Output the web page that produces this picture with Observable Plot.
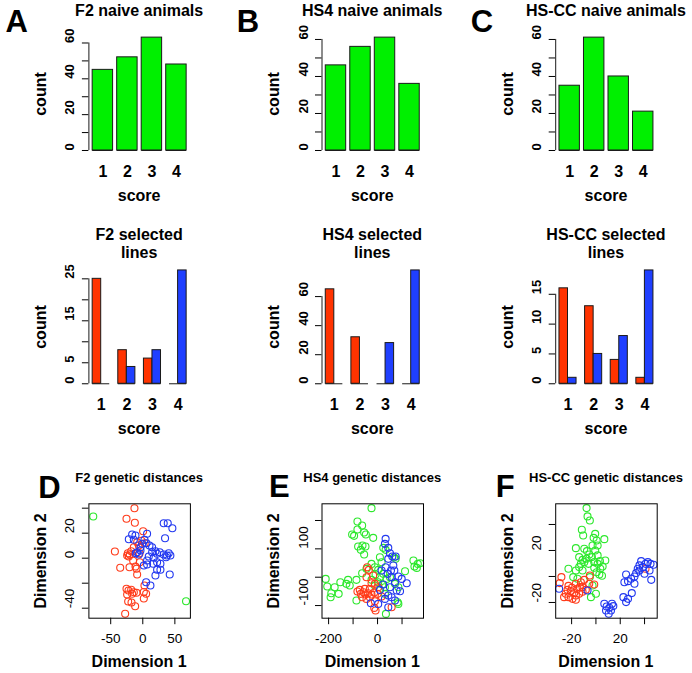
<!DOCTYPE html>
<html><head><meta charset="utf-8">
<script src="https://cdn.jsdelivr.net/npm/d3@7"></script>
<script src="https://cdn.jsdelivr.net/npm/@observablehq/plot@0.6"></script>
<style>
body{margin:0;background:#fff}
#fig{position:relative;width:692px;height:673px;overflow:hidden;background:#fff;font-family:"Liberation Sans",Arial,Helvetica,sans-serif;color:#000}
.lbl{position:absolute;white-space:nowrap;line-height:1;}
#fig svg{position:absolute;overflow:visible;background:transparent}
</style></head><body><div id="fig"></div>
<script>
// ---------- data ----------
const scores = ["1", "2", "3", "4"];
const naiveF2 = [45, 52, 63, 48];
const naiveHS4 = [46, 56, 61, 36];
const naiveHSCC = [35, 61, 40, 21];
const selLowF2 = [25, 8, 6, 0];
const selHighF2 = [0, 4, 8, 27];
const selLowHS4 = [65, 32, 0, 0];
const selHighHS4 = [0, 0, 28, 78];
const selLowHSCC = [16, 13, 4, 1];
const selHighHSCC = [1, 5, 8, 19];

const titlesNaive = ["F2 naive animals", "HS4 naive animals", "HS-CC naive animals"];
const titlesSelected = [["F2 selected", "lines"], ["HS4 selected", "lines"], ["HS-CC selected", "lines"]];
const titlesMDS = ["F2 genetic distances", "HS4 genetic distances", "HS-CC genetic distances"];
const panelLetters = ["A", "B", "C", "D", "E", "F"];

const ticksNaive = [0, 10, 20, 30, 40, 50, 60];
const labelsNaive = [0, 20, 40, 60];
const ticksSel = [[0, 5, 10, 15, 20, 25], [0, 20, 40, 60], [0, 5, 10, 15]];
const labelsSel = [[0, 5, 15, 25], [0, 20, 40, 60], [0, 5, 10, 15]];

// MDS coordinates [dimension 1, dimension 2]
const mdsF2Red = [[-13,40],[-25.4,31.5],[-12.4,28.3],[0.5,21.6],[-8.8,12.8],[-6.2,10.1],[-43.5,5.3],[-23.3,4],[-20.2,2.9],[-21.8,1.3],[-18.1,5.6],[-24.4,2.1],[-14,8.8],[-35.2,-7.7],[-20.7,-7.2],[-11.4,-6.7],[-9.8,-8.5],[-8.8,-13],[-4.7,-3.2],[-25.4,-24.5],[-22.3,-25.9],[-18.1,-25.3],[-14,-27.2],[-9.8,-27.7],[-24.4,-29.1],[-16.6,-28.5],[1.6,-27],[5.2,-28.5],[2.6,-21.9],[1.6,-32.3],[-22.8,-34.7],[-17.6,-35.5],[-11.9,-38.4],[-27.5,-44.5],[-2,14],[3,12],[-5,4],[-15,-2]];
const mdsF2Blue = [[32.6,28],[38.9,28],[46.1,24],[34.7,16],[-16.6,18.9],[-11.4,18.1],[-21.8,15.2],[-14,14.7],[6.7,19.5],[2.6,14.7],[5.7,12],[10.4,10.1],[14.5,8.8],[-3.6,8.8],[-8.8,4.8],[-6.2,2.9],[14.5,4.8],[19.7,5.6],[22.3,3.5],[26.4,4.8],[9.3,1.3],[6.7,-1.9],[17.1,0.3],[32.6,2.9],[37.8,2.1],[36.3,0.8],[40.4,4],[43,2.1],[6.7,-5.1],[1.6,-5.9],[16.1,-4.5],[22.3,-3.2],[27.5,-4.5],[22.3,-9.3],[27.5,-9.3],[19.7,-13.9],[42,-13.1],[5.2,-19.2],[11.9,-21.9],[-3.6,6.1],[-1,11.5],[-11,4]];
const mdsF2Green = [[-77.2,33.3],[67.4,-34.4]];

const mdsHS4Green = [[-24.7,243.5],[-82.2,196.5],[-63,182.4],[-82.2,168.2],[-54.8,157.6],[-104,150.6],[-95.9,145.9],[-47.9,150.6],[-17.8,138.8],[-79.5,108.2],[-61.6,111.8],[-49.3,108.2],[-68.5,96.5],[-54.8,80],[23.3,103.5],[32.9,96.5],[67.1,70.6],[74,64.7],[-212,-5.9],[-205.5,-32.9],[-189,-56.5],[-191.8,-70.6],[-175.3,-35.3],[-158.9,-58.8],[-152,-17.6],[-120.5,-9.4],[-113.7,-29.4],[-127.4,-23.5],[-86.3,-9.4],[-63,14.1],[-45.2,29.4],[-86.3,-82.4],[-24.7,47],[-11,35.3],[2.7,25.9],[-8.2,9.4],[9.6,0],[23.3,11.8],[37,-5.9],[50.7,0],[2.7,-17.6],[19.2,-25.9],[-11,-29.4],[-24.7,-9.4],[30.1,-35.3],[9.6,70.6],[16.4,52.9],[112.3,21.2],[146.6,58.8],[150.7,37.6],[160.3,32.9],[174,49.4],[164.4,47],[85,-94.1],[82.2,-88.2],[34.2,-129.4],[30.1,-58.8],[71.2,-23.5],[85,-35.3]];
const mdsHS4Red = [[-42.5,35.3],[-35.6,25.9],[-45.2,0],[-17.8,5.9],[-24.7,-21.2],[-11,-23.5],[-82.2,-50.6],[-68.5,-58.8],[-57.5,-52.9],[-49.3,-61.2],[-38.4,-56.5],[-24.7,-61.2],[-13.7,-54.1],[0,-58.8],[-63,-70.6],[-45.2,-76.5],[-31.5,-70.6],[-11,-84.7],[-8.2,-117.6],[-13.7,-108.2],[57.5,-105.9],[-31.5,-41.2],[2.7,-35.3],[16.4,-68.2],[-72.6,-44.7],[-52,-41.2]];
const mdsHS4Blue = [[32.9,135.3],[30.1,117.6],[43.8,103.5],[50.7,84.7],[60.3,72.9],[74,72.9],[43.8,64.7],[64.4,41.2],[54.8,23.5],[32.9,35.3],[85,2.4],[98.6,-5.9],[119.2,-21.2],[71.2,-17.6],[78.1,-47.1],[91.8,-49.4],[57.5,-70.6],[71.2,-82.4],[43.8,-64.7],[-27.4,-91.8],[2.7,-94.1],[43.8,-105.9],[23.3,-25.9],[9.6,-44.7],[57.5,0],[41.1,11.8],[16.4,23.5],[68.5,23.5],[50.7,-35.3],[30.1,-76.5]];

const mdsHSCCGreen = [[-7.7,52.6],[-6.9,46.2],[-5,43.1],[-11.6,35.9],[-10.5,31.5],[-0.6,32.8],[-1.9,29.7],[0.6,27.7],[6.9,28.7],[-2.8,23.8],[1.4,23.8],[-16.5,21.8],[-9.6,21.3],[-7.4,19.5],[-5.5,16.9],[-13.8,14.9],[-11,12.8],[-7.7,13.6],[-3.3,14.9],[1.4,16.2],[3.3,11.8],[7.7,12.3],[5.5,7.7],[-22.6,5.9],[-16.5,4.6],[-12.4,9.7],[-13.8,7.2],[-1.4,6.7],[0.6,3.3],[2.8,1.5],[5,0.5],[-5,-0.5],[-15.2,-1.8],[-18.7,-0.5],[-2.8,-6.9],[0,-13.3],[-4.1,-15.9],[-9.6,11],[-1.4,11],[1.4,9.7],[-6.1,9.7],[-11,4.6],[3.6,5.9],[-0.6,20]];
const mdsHSCCRed = [[-28.4,-0.5],[-29.8,-5.1],[-22.6,-7.2],[-19.8,-8.7],[-16.5,-5.6],[-12.4,-4.4],[-11,-8.2],[-5.5,-5.6],[-5,0.8],[-1.4,-6.2],[-24.8,-13.3],[-22.6,-15.9],[-19.3,-17.2],[-16.5,-14.6],[-13.8,-13.3],[-11,-11.8],[-15.2,-9.5],[-20.7,-11.3],[-26.2,-15.9],[-16.5,-17.9],[-17.9,-12.8],[-13.2,-8.2],[-9.6,-2.6],[-23.4,-10.3],[-8.3,-10.3],[40.8,5.9]];
const mdsHSCCBlue = [[-30.3,-9.5],[-6.9,-10.8],[6.9,-21],[8.8,-23.1],[11,-24.1],[13.2,-21],[8.3,-26.2],[10.5,-28.7],[14.3,-22.8],[12.4,-26.2],[24.8,1.5],[23.4,-4.4],[26.4,-3.6],[31.7,-5.6],[29.5,-12.8],[22.6,-15.9],[24.8,-19.7],[26.4,-17.2],[38.6,7.2],[40.8,9.7],[42.7,11],[44.9,9.7],[47.4,9],[35.8,8.5],[34.4,5.9],[33.1,2.6],[37.2,11.8],[44.1,4.6],[45.5,-2.6],[39.9,2.1],[31.7,0],[28.9,-1.8],[35.8,4.6]];

const mdsDomains = [
  {x: [-84, 74.2], y: [-48, 43.5], xTicks: [-50, 0, 50], xLabels: [-50, 0, 50], yTicks: [-40, -20, 0, 20, 40], yLabels: [-40, 0, 20]},
  {x: [-227, 187.7], y: [-144.6, 258.9], xTicks: [-200, -100, 0, 100], xLabels: [-200, 0], yTicks: [-100, 0, 100, 200], yLabels: [-100, 100]},
  {x: [-33.1, 50.4], y: [-32.1, 55.9], xTicks: [-20, 0, 20, 40], xLabels: [-20, 20], yTicks: [-20, 0, 20, 40], yLabels: [-20, 20]}
];

// ---------- layout & style ----------
const FONT = "'Liberation Sans', Arial, Helvetica, sans-serif";
const GROUPS = ["naive", "low", "high"];
const COLORS_BAR = ["#00f000", "#ff3300", "#1f3fff"];
const COLORS_DOT = ["#2de82d", "#ff3b1a", "#2238f0"];
const COLS = [{cell: 0, left: 88.4, right: 189.9}, {cell: 231, left: 321.5, right: 423.0}, {cell: 462, left: 555.2, right: 656.7}];
const ROWS = [{cell: 0, top: 32.6, bottom: 154.5}, {cell: 224, top: 265.4, bottom: 387.8}, {cell: 449, top: 503.3, bottom: 617.7}];
const CW = 230, CH = 224;
const fig = document.getElementById("fig");

function frameOpts(ci, ri) {
  const c = COLS[ci], r = ROWS[ri];
  return {width: CW, height: CH, marginLeft: c.left - c.cell, marginRight: c.cell + CW - c.right,
          marginTop: r.top - r.cell, marginBottom: r.cell + CH - r.bottom};
}
function put(svg, ci, ri) {
  svg.style.left = COLS[ci].cell + "px";
  svg.style.top = ROWS[ri].cell + "px";
  fig.appendChild(svg);
}

function barPanel(ci, ri, bars, xDomain, centers, yTicks, yLabels) {
  const m = d3.max(bars, d => d.count);
  const svg = Plot.plot({
    ...frameOpts(ci, ri),
    style: {background: "transparent", overflow: "visible"},
    x: {domain: xDomain, axis: null},
    y: {domain: [-0.04 * m, 1.04 * m], ticks: yTicks, tickSize: 6.5, tickFormat: () => "", label: null},
    color: {domain: GROUPS, range: COLORS_BAR},
    marks: [
      Plot.rect(bars, {x1: "x1", x2: "x2", y1: 0, y2: "count", fill: "group", stroke: "#1a1a1a", strokeWidth: 1}),
      Plot.ruleY(bars, {x1: "x1", x2: "x2", y: 0, stroke: "#1a1a1a", strokeWidth: 1}),
      Plot.ruleX([xDomain[0]], {y1: 0, y2: d3.max(yTicks), stroke: "#1a1a1a", strokeWidth: 1}),
      Plot.text(yLabels, {y: d => d, text: d => String(d), frameAnchor: "left", dx: -14.5, rotate: -90,
        lineAnchor: "bottom", fontSize: 13, fontWeight: "bold", fontFamily: FONT, fill: "#000"}),
      Plot.text(centers, {x: "x", text: "label", frameAnchor: "bottom", dy: 21.8, lineAnchor: "bottom",
        fontSize: 16, fontWeight: "bold", fontFamily: FONT, fill: "#000"})
    ]
  });
  put(svg, ci, ri);
}

function naiveBars(vals) {
  return scores.map((s, i) => ({score: s, count: vals[i], group: "naive", x1: 0.2 + 1.2 * i, x2: 1.2 + 1.2 * i}));
}
function selectedBars(low, high) {
  const out = [];
  scores.forEach((s, j) => {
    out.push({score: s, count: low[j], group: "low", x1: 1 + 3 * j, x2: 2 + 3 * j});
    out.push({score: s, count: high[j], group: "high", x1: 2 + 3 * j, x2: 3 + 3 * j});
  });
  return out;
}

const naiveCenters = scores.map((s, i) => ({label: s, x: 0.7 + 1.2 * i}));
const selCenters = scores.map((s, j) => ({label: s, x: 2 + 3 * j}));
const naiveXDomain = [0.2 - 0.04 * 4.6, 4.8 + 0.04 * 4.6];
const selXDomain = [1 - 0.04 * 11, 12 + 0.04 * 11];

[naiveF2, naiveHS4, naiveHSCC].forEach((v, ci) =>
  barPanel(ci, 0, naiveBars(v), naiveXDomain, naiveCenters, ticksNaive, labelsNaive));
[[selLowF2, selHighF2], [selLowHS4, selHighHS4], [selLowHSCC, selHighHSCC]].forEach(([lo, hi], ci) =>
  barPanel(ci, 1, selectedBars(lo, hi), selXDomain, selCenters, ticksSel[ci], labelsSel[ci]));

function mdsPanel(ci, green, red, blue) {
  const dm = mdsDomains[ci];
  const pts = [
    ...green.map(p => ({d1: p[0], d2: p[1], group: "naive"})),
    ...red.map(p => ({d1: p[0], d2: p[1], group: "low"})),
    ...blue.map(p => ({d1: p[0], d2: p[1], group: "high"}))
  ];
  const svg = Plot.plot({
    ...frameOpts(ci, 2),
    style: {background: "transparent", overflow: "visible"},
    x: {domain: dm.x, ticks: dm.xTicks, tickSize: 6.5, tickFormat: () => "", label: null},
    y: {domain: dm.y, ticks: dm.yTicks, tickSize: 6.5, tickFormat: () => "", label: null},
    color: {domain: GROUPS, range: COLORS_DOT},
    marks: [
      Plot.dot(pts, {x: "d1", y: "d2", r: 3.5, stroke: "group", strokeWidth: 1.1, fill: "none"}),
      Plot.frame({stroke: "#000", strokeWidth: 1}),
      Plot.text(dm.yLabels, {y: d => d, text: d => String(d), frameAnchor: "left", dx: -14.5, rotate: -90,
        lineAnchor: "bottom", fontSize: 13.5, fontFamily: FONT, fill: "#000"}),
      Plot.text(dm.xLabels, {x: d => d, text: d => String(d), frameAnchor: "bottom", dy: 24.5, lineAnchor: "bottom",
        fontSize: 13.5, fontFamily: FONT, fill: "#000"})
    ]
  });
  put(svg, ci, 2);
}
mdsPanel(0, mdsF2Green, mdsF2Red, mdsF2Blue);
mdsPanel(1, mdsHS4Green, mdsHS4Red, mdsHS4Blue);
mdsPanel(2, mdsHSCCGreen, mdsHSCCRed, mdsHSCCBlue);

// ---------- HTML text ----------
function hl(text, cx, baseline, size, weight = "bold") {
  const d = document.createElement("div");
  d.className = "lbl"; d.textContent = text;
  d.style.fontSize = size + "px"; d.style.fontWeight = weight;
  d.style.left = cx + "px"; d.style.top = (baseline - 0.8465 * size) + "px";
  d.style.transform = "translateX(-50%)";
  fig.appendChild(d);
}
function vl(text, baseX, cy, size, weight = "bold") {
  const d = document.createElement("div");
  d.className = "lbl"; d.textContent = text;
  d.style.fontSize = size + "px"; d.style.fontWeight = weight;
  d.style.left = (baseX - 0.3465 * size) + "px"; d.style.top = cy + "px";
  d.style.transform = "translate(-50%,-50%) rotate(-90deg)";
  fig.appendChild(d);
}
function cl(text, cx, cy, size) {
  const d = document.createElement("div");
  d.className = "lbl"; d.textContent = text;
  d.style.fontSize = size + "px"; d.style.fontWeight = "bold";
  d.style.left = cx + "px"; d.style.top = cy + "px";
  d.style.transform = "translate(-50%,-50%)";
  fig.appendChild(d);
}

const letterPos = [[16.7, 20.7], [248, 20.8], [482, 20.8], [49.5, 486.7], [279.3, 485.8], [505.3, 485.8]];
panelLetters.forEach((L, i) => cl(L, letterPos[i][0], letterPos[i][1], 31));

COLS.forEach((c, ci) => {
  const cx = (c.left + c.right) / 2;
  hl(titlesNaive[ci], cx, 17, 16);
  hl(titlesSelected[ci][0], cx, 240.7, 16);
  hl(titlesSelected[ci][1], cx, 258.3, 16);
  hl(titlesMDS[ci], cx, 482, 13);
  vl("count", c.left - 41.5, (ROWS[0].top + ROWS[0].bottom) / 2, 16);
  vl("count", c.left - 41.5, (ROWS[1].top + ROWS[1].bottom) / 2, 16);
  vl("Dimension 2", c.left - 41.5, (ROWS[2].top + ROWS[2].bottom) / 2, 16);
  hl("score", cx, 201.5, 16);
  hl("score", cx, 435, 16);
  hl("Dimension 1", cx, 667.5, 16);
});
</script></body></html>
